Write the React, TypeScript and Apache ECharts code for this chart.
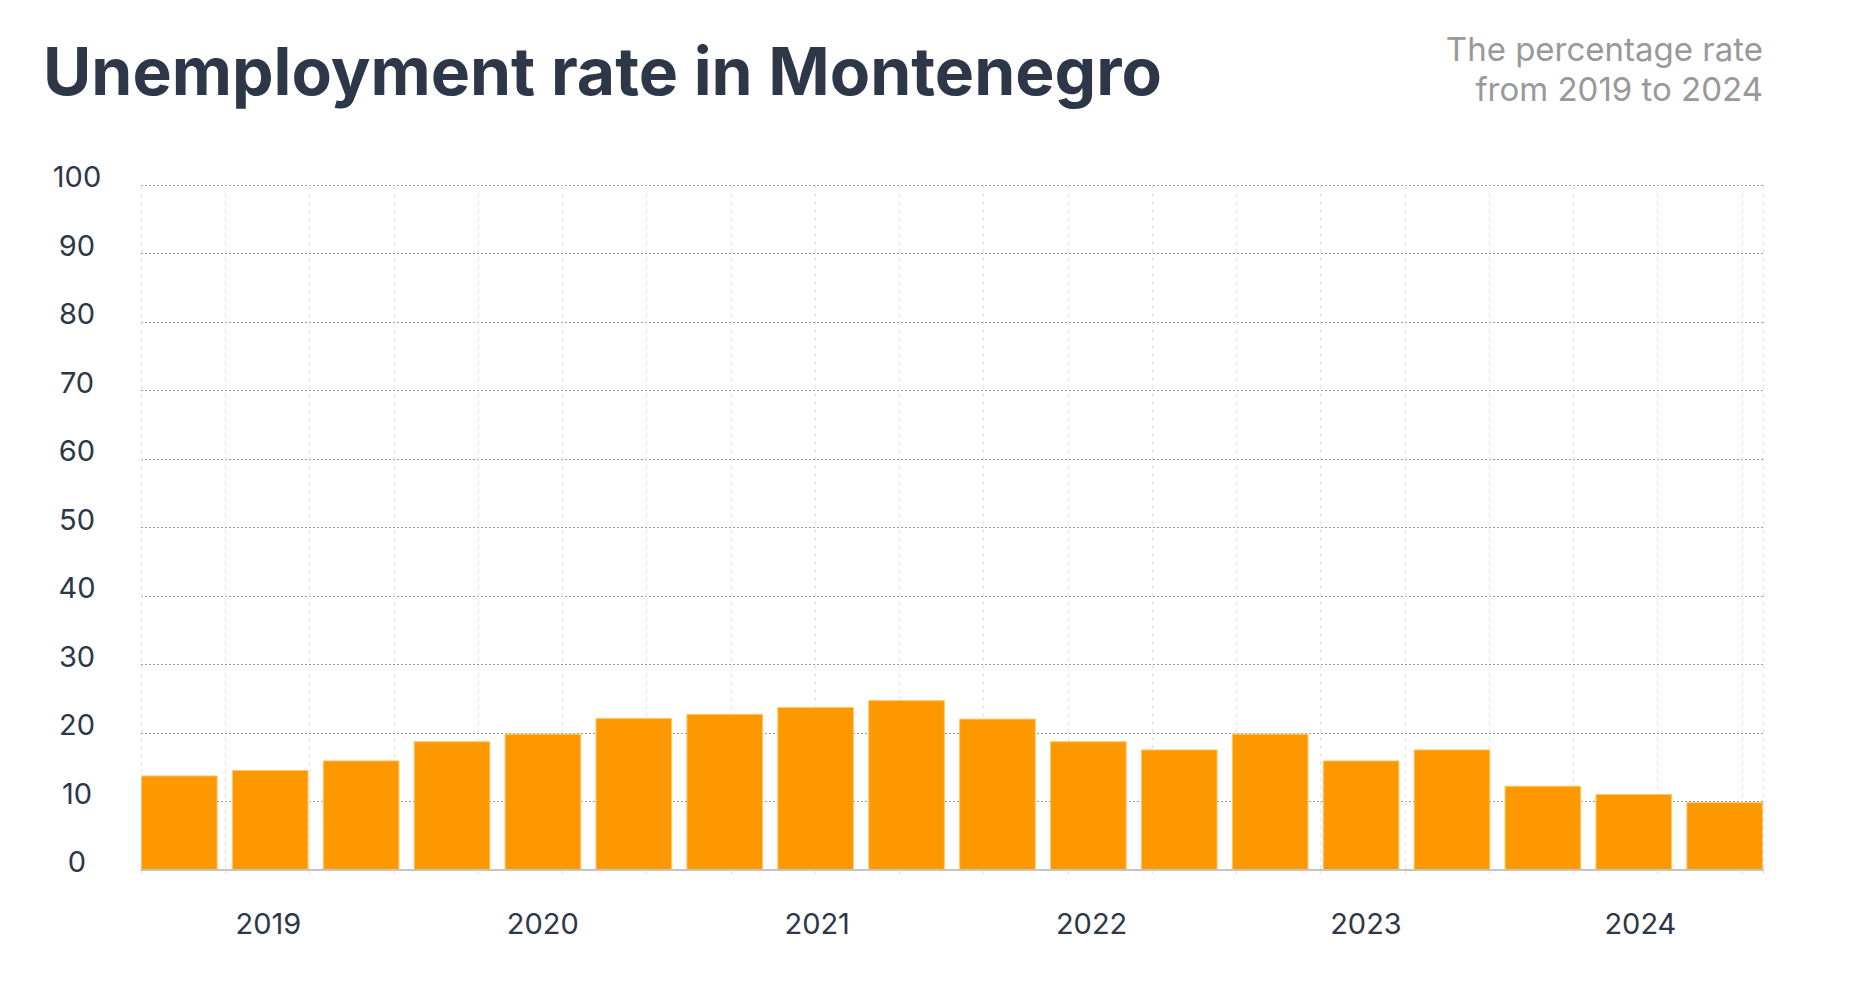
import { useEffect, useRef } from "react";
import * as echarts from "echarts";

const periods = [
  "2019 T1", "2019 T2", "2019 T3",
  "2020 T1", "2020 T2", "2020 T3",
  "2021 T1", "2021 T2", "2021 T3",
  "2022 T1", "2022 T2", "2022 T3",
  "2023 T1", "2023 T2", "2023 T3",
  "2024 T1", "2024 T2", "2024 T3",
];
const rates = [13.8, 14.6, 16.0, 18.8, 19.9, 22.2, 22.8, 23.8, 24.8, 22.1, 18.8, 17.6, 19.9, 16.0, 17.6, 12.3, 11.1, 9.9];
const yearLabels = [2019, 2020, 2021, 2022, 2023, 2024];

const TITLE = "Unemployment rate in Montenegro";
const SUBTITLE = "The percentage rate\nfrom 2019 to 2024";

const FONT = "Inter, 'Noto Sans', sans-serif";
const DARK = "#2d3748";

export default function App() {
  const ref = useRef<HTMLDivElement>(null);
  useEffect(() => {
    if (!ref.current) return;
    const chart = echarts.init(ref.current, undefined, { renderer: "svg" });
    chart.setOption({
      animation: false,
      backgroundColor: "#ffffff",
      textStyle: { fontFamily: FONT },
      title: {
        text: TITLE,
        left: 43,
        top: 38,
        padding: 0,
        textStyle: { fontFamily: FONT, fontSize: 66, fontWeight: 700, color: DARK, lineHeight: 66 },
      },
      graphic: [
        {
          type: "text",
          x: 1763,
          y: 29,
          style: {
            text: SUBTITLE,
            align: "right",
            verticalAlign: "top",
            fontFamily: FONT,
            fontSize: 33,
            lineHeight: 40,
            fill: "#999999",
          },
        },
      ],
      grid: [
        { left: 141, right: 106, top: 185, bottom: 112, containLabel: false },
        { left: 133.85, right: 98.85, top: 185, bottom: 112, containLabel: false },
      ],
      xAxis: [
        {
          type: "value",
          gridIndex: 0,
          position: "bottom",
          min: 2018.5357,
          max: 2024.4469,
          axisLine: { show: true, lineStyle: { color: "#c4c4c4", width: 2 } },
          axisTick: { show: false },
          splitLine: { show: false },
          axisLabel: {
            show: true,
            customValues: yearLabels,
            formatter: (v: number) => String(Math.round(v)),
            fontFamily: FONT,
            fontSize: 29,
            color: DARK,
            margin: 39,
          },
          z: 5,
        },
        {
          type: "value",
          gridIndex: 0,
          position: "bottom",
          min: 0,
          max: 19.25,
          interval: 1,
          axisLine: { show: false },
          axisLabel: { show: false },
          axisTick: { show: true, length: 8, lineStyle: { color: "#e2e2e2", width: 1, type: [4, 4] } },
          splitLine: { show: true, lineStyle: { color: "#e2e2e2", width: 1, type: [4, 4] } },
          z: 0,
        },
        {
          type: "category",
          gridIndex: 1,
          data: periods,
          axisLine: { show: false },
          axisTick: { show: false },
          axisLabel: { show: false },
          splitLine: { show: false },
        },
      ],
      yAxis: [
        {
          type: "value",
          gridIndex: 0,
          min: 0,
          max: 100,
          interval: 10,
          axisLine: { show: false },
          axisTick: { show: false },
          axisLabel: {
            fontFamily: FONT,
            fontSize: 29,
            color: DARK,
            align: "center",
            margin: 64,
            verticalAlign: "bottom",
            lineHeight: 17,
          },
          splitLine: { show: true, lineStyle: { color: "#9a9a9a", width: 1, type: [2, 2] } },
          z: 0,
        },
        {
          type: "value",
          gridIndex: 1,
          min: 0,
          max: 100,
          interval: 10,
          show: false,
          splitLine: { show: false },
        },
      ],
      series: [
        {
          type: "bar",
          xAxisIndex: 2,
          yAxisIndex: 1,
          data: rates,
          barCategoryGap: "15.7%",
          itemStyle: { color: "#fd9800", borderColor: "#ffc766", borderWidth: 1 },
          z: 3,
        },
      ],
    });
    return () => chart.dispose();
  }, []);
  return (
    <div
      ref={ref}
      style={{ position: "fixed", left: 0, top: 0, width: 1869, height: 982, background: "#fff" }}
    />
  );
}
